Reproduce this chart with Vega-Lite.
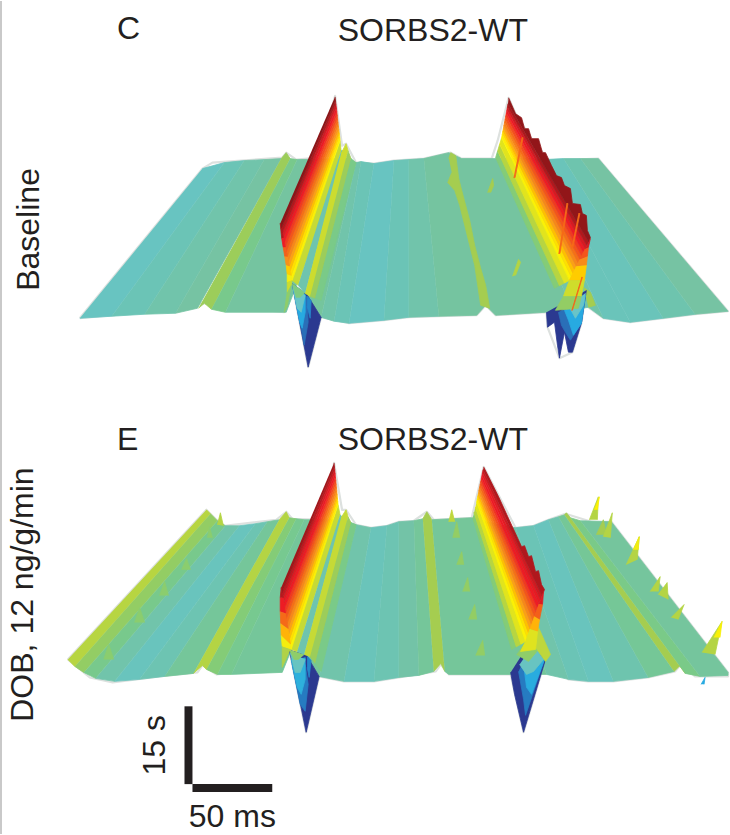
{"$schema":"https://vega.github.io/schema/vega-lite/v6.json","width":730,"height":835,"autosize":{"type":"fit","contains":"padding"},"padding":0,"background":"#ffffff","view":{"stroke":null},
"datasets":{
"surface":[
{"s":"c01","v":-0.08,"x":[203,225,112,80],"y":[168,162,316,318]},
{"s":"c02","v":-0.05,"x":[225,245,145,112],"y":[162,160,314,316]},
{"s":"c03","v":-0.02,"x":[245,265,176,145],"y":[160,159,313,314]},
{"s":"c04","v":0,"x":[265,282,198,176],"y":[159,158,308,313]},
{"s":"c05","v":0.18,"x":[282,287,291,212,205,199],"y":[158,152,158,309,303,308]},
{"s":"c06","v":0.07,"x":[291,298,226,212],"y":[158,159,312,309]},
{"s":"c07","v":0.01,"x":[298,345,287,226],"y":[159,158,312,312]},
{"s":"c08","v":0.02,"x":[345,357,322,307],"y":[158,162,317,293]},
{"s":"c09","v":-0.02,"x":[357,362,335,322],"y":[162,161,321,317]},
{"s":"c10","v":-0.05,"x":[362,375,350,335],"y":[161,163,323,321]},
{"s":"c11","v":-0.08,"x":[375,395,385,350],"y":[163,160,320,323]},
{"s":"c12","v":-0.05,"x":[395,410,410,385],"y":[160,159,317,320]},
{"s":"c13","v":-0.02,"x":[410,425,440,410],"y":[159,158,316,317]},
{"s":"c14","v":0.01,"x":[425,450,463,509,574,547,497,487,478,440],"y":[158,152,158,158,310,312,315,305,315,316]},
{"s":"c15","v":-0.02,"x":[509,530,605,590,574],"y":[158,158,318,307,310]},
{"s":"c16","v":-0.06,"x":[530,545,632,605],"y":[158,159,322,318]},
{"s":"c17","v":-0.06,"x":[545,565,665,632],"y":[159,158,318,322]},
{"s":"c18","v":-0.03,"x":[565,582,697,665],"y":[158,158,314,318]},
{"s":"c19","v":0,"x":[582,600,730,697],"y":[158,158,311,314]},
{"s":"c20","v":0.2,"x":[450,452,457,460,463,471,476,482,487,491,482,479,476,471,466,461,456,449,453],"y":[158,152,155,178,190,220,245,268,285,308,305,285,265,245,225,205,190,182,172]},
{"s":"c21","v":0.2,"x":[489,494,495,492],"y":[192,178,185,192]},
{"s":"c22","v":0.25,"x":[514,520,522,517],"y":[276,259,262,275]},
{"s":"c23","v":0.2,"x":[585,592,597,590],"y":[287,292,305,307]},
{"s":"c30","v":-0.85,"x":[293,309,322,307],"y":[283,367,317,293]},
{"s":"c31","v":-0.6,"x":[295,303,305,309,308],"y":[293,333,345,322,296]},
{"s":"c32","v":-0.35,"x":[294,300.5,303,306,306],"y":[288,322,328,312,294]},
{"s":"c33","v":-0.1,"x":[293.5,298,302,306],"y":[285,308,312,295]},
{"s":"c34","v":0.1,"x":[293,297,301,306],"y":[283,297,297,292]},
{"s":"c35","v":-0.5,"x":[308,312,311,308],"y":[296,300,318,306]},
{"s":"c40","v":-0.85,"x":[548,549,556,559,561,566,570,574,583,588],"y":[312,327,322,345,358,332,352,352,323,290]},
{"s":"c41","v":-0.6,"x":[560,563,567,572,583,587],"y":[312,325,332,340,323,295]},
{"s":"c42","v":-0.35,"x":[566,570,575,583,587],"y":[310,320,335,323,295]},
{"s":"c43","v":-0.1,"x":[570,577,585,587],"y":[305,318,305,293]},
{"s":"c50","v":0.3,"x":[341,342,299,293],"y":[140,150,285,280]},
{"s":"c51","v":-0.03,"x":[342,344,306,299],"y":[150,150,293,285]},
{"s":"c52","v":0.32,"x":[342,347,349,311,306],"y":[153,143,150,296,293]},
{"s":"c53","v":0.18,"x":[349,352,316,311],"y":[150,158,298,296]},
{"s":"c54","v":0.08,"x":[352,357,322,316],"y":[158,162,300,298]},
{"s":"ca12","v":0.49,"x":[340.6,341,293,292],"y":[136.3,140,280,275.3]},
{"s":"ca11","v":0.53,"x":[340.2,340.6,292,291],"y":[132.7,136.3,275.3,270.5]},
{"s":"ca10","v":0.58,"x":[339.8,340.2,291,290],"y":[129,132.7,270.5,265.8]},
{"s":"ca09","v":0.63,"x":[339.3,339.8,290,289],"y":[125.3,129,265.8,261]},
{"s":"ca08","v":0.68,"x":[338.9,339.3,289,288],"y":[121.7,125.3,261,256.3]},
{"s":"ca07","v":0.73,"x":[338.5,338.9,288,287],"y":[118,121.7,256.3,251.5]},
{"s":"ca06","v":0.78,"x":[338.1,338.5,287,286],"y":[114.3,118,251.5,246.8]},
{"s":"ca05","v":0.82,"x":[337.7,338.1,286,285],"y":[110.7,114.3,246.8,242]},
{"s":"ca04","v":0.85,"x":[337.3,337.7,285,284],"y":[107,110.7,242,237.3]},
{"s":"ca03","v":0.88,"x":[336.8,337.3,284,283],"y":[103.3,107,237.3,232.5]},
{"s":"ca02","v":0.93,"x":[336.4,336.8,283,282],"y":[99.7,103.3,232.5,227.8]},
{"s":"ca01","v":0.98,"x":[336,336.4,282,281],"y":[96,99.7,227.8,223]},
{"s":"c62","v":0.93,"x":[281,282.5,284,282],"y":[223,238,237.3,227.8]},
{"s":"c63","v":0.85,"x":[282.5,284,286,284],"y":[238,247,246.8,237.3]},
{"s":"c64","v":0.76,"x":[284,285.5,288,286],"y":[247,256,256.3,246.8]},
{"s":"c65","v":0.66,"x":[285.5,287,290,288],"y":[256,265,265.8,256.3]},
{"s":"c66","v":0.56,"x":[287,288,292,290],"y":[265,274,275.3,265.8]},
{"s":"c67","v":0.46,"x":[288,288,293,292],"y":[274,282,280,275.3]},
{"s":"c68","v":0.32,"x":[288,288,292,293],"y":[282,292,285,280]},
{"s":"c69","v":0.15,"x":[288,285,288,292],"y":[292,312,306,285]},
{"s":"c70","v":0.12,"x":[499,497,556,561],"y":[150.3,157,288,285.3]},
{"s":"c71","v":0.26,"x":[501,499,561,566],"y":[143.7,150.3,285.3,282.7]},
{"s":"c72","v":0.39,"x":[503,501,566,571],"y":[137,143.7,282.7,280]},
{"s":"cb12","v":0.49,"x":[503.6,503,571,572.8],"y":[133.9,137,280,276.5]},
{"s":"cb11","v":0.53,"x":[504.2,503.6,572.8,574.5],"y":[130.8,133.9,276.5,273]},
{"s":"cb10","v":0.58,"x":[504.8,504.2,574.5,576.3],"y":[127.8,130.8,273,269.5]},
{"s":"cb09","v":0.63,"x":[505.3,504.8,576.3,578],"y":[124.7,127.8,269.5,266]},
{"s":"cb08","v":0.68,"x":[505.9,505.3,578,579.8],"y":[121.6,124.7,266,262.5]},
{"s":"cb07","v":0.73,"x":[506.5,505.9,579.8,581.5],"y":[118.5,121.6,262.5,259]},
{"s":"cb06","v":0.78,"x":[507.1,506.5,581.5,583.3],"y":[115.4,118.5,259,255.5]},
{"s":"cb05","v":0.82,"x":[507.7,507.1,583.3,585],"y":[112.3,115.4,255.5,252]},
{"s":"cb04","v":0.85,"x":[508.3,507.7,585,586.8],"y":[109.3,112.3,252,248.5]},
{"s":"cb03","v":0.88,"x":[508.8,508.3,586.8,588.5],"y":[106.2,109.3,248.5,245]},
{"s":"cb02","v":0.93,"x":[509.4,508.8,588.5,590.3],"y":[103.1,106.2,245,241.5]},
{"s":"c79","v":0.97,"x":[510,517,523,526,530,533,540,544,547,553,558,563,566,572,574,582,584,588,589,592,590.3,509.4],"y":[97,113,117,128,128,138,138,152,152,165,175,177,185,188,203,204,213,215,230,237,241.5,103.1]},
{"s":"c80","v":0.88,"x":[592,590,586.8],"y":[238,247,248.5]},
{"s":"c81","v":0.78,"x":[590,589,581.5,586.8],"y":[247,256,259,248.5]},
{"s":"c82","v":0.67,"x":[589,588,578,581.5],"y":[256,265,266,259]},
{"s":"c83","v":0.56,"x":[588,586,571,578],"y":[265,280,280,266]},
{"s":"c84","v":0.33,"x":[586,583,565,571],"y":[280,296,296,280]},
{"s":"c85","v":0.16,"x":[583,580,557,565],"y":[296,308,310,296]},
{"s":"c86","v":0.74,"x":[523,524.5,516.5,515],"y":[137,137,177,177]},
{"s":"c87","v":0.74,"x":[568,569.5,561.5,560],"y":[203,203,253,253]},
{"s":"c88","v":0.74,"x":[580,581.5,574.5,573],"y":[213,213,247,247]},
{"s":"c89","v":0.75,"x":[583,584,574,573],"y":[277,277,310,310]},
{"s":"e01","v":0.26,"x":[207,211,75,68],"y":[510,514,667,660]},
{"s":"e02","v":0.16,"x":[211,218,84,75],"y":[514,521,673,667]},
{"s":"e03","v":0.07,"x":[218,226,96,84],"y":[521,526,679,673]},
{"s":"e04","v":-0.02,"x":[226,240,115,96],"y":[526,526,682,679]},
{"s":"e05","v":-0.07,"x":[240,256,140,115],"y":[526,524,680,682]},
{"s":"e06","v":-0.04,"x":[256,268,165,140],"y":[524,522,677,680]},
{"s":"e07","v":0.03,"x":[268,280,194,165],"y":[522,520,674,677]},
{"s":"e08","v":0.25,"x":[280,287,290,207,203,194],"y":[520,512,518,670,666,674]},
{"s":"e09","v":0.12,"x":[290,297,218,207],"y":[518,519,675,670]},
{"s":"e10","v":0.06,"x":[297,305,232,218],"y":[519,520,675,675]},
{"s":"e11","v":0.03,"x":[305,345,283,232],"y":[520,520,673,675]},
{"s":"e12","v":0.03,"x":[345,357,320,307],"y":[520,525,677,655]},
{"s":"e13","v":-0.02,"x":[357,372,345,320],"y":[525,528,682,677]},
{"s":"e14","v":-0.06,"x":[372,388,375,345],"y":[528,526,682,682]},
{"s":"e15","v":-0.04,"x":[388,400,400,375],"y":[526,522,678,682]},
{"s":"e16","v":-0.01,"x":[400,415,420,400],"y":[522,521,676,678]},
{"s":"e17","v":0.03,"x":[415,424,435,420],"y":[521,519,672,676]},
{"s":"e18","v":0.2,"x":[424,428,433,446,442,435],"y":[519,512,520,672,664,672]},
{"s":"e19","v":0.03,"x":[433,473,500,548,450,446],"y":[520,518,525,675,675,672]},
{"s":"e20","v":-0.02,"x":[500,517,570,548],"y":[525,528,680,675]},
{"s":"e21","v":-0.05,"x":[517,535,590,570],"y":[528,526,682,680]},
{"s":"e22","v":-0.07,"x":[535,550,615,590],"y":[526,520,682,682]},
{"s":"e23","v":-0.03,"x":[550,560,650,615],"y":[520,517,678,682]},
{"s":"e24","v":0.04,"x":[560,566,676,650],"y":[517,515,672,678]},
{"s":"e25","v":0.2,"x":[566,568,572,687,683,676],"y":[515,513,518,674,665,672]},
{"s":"e26","v":0.08,"x":[572,582,702,687],"y":[518,521,677,674]},
{"s":"e27","v":0.02,"x":[582,613,730,730,702],"y":[521,522,673,676,677]},
{"s":"e30","v":0.14,"x":[208,210,213],"y":[538,527,538]},
{"s":"e31","v":0.14,"x":[182,187,191],"y":[570,559,570]},
{"s":"e32","v":0.14,"x":[160,165,169],"y":[596,582,596]},
{"s":"e33","v":0.14,"x":[135,140,145],"y":[623,608,623]},
{"s":"e34","v":0.14,"x":[104,109,114],"y":[660,645,660]},
{"s":"e35","v":0.25,"x":[218,221,224],"y":[525,513,526]},
{"s":"e36","v":0.28,"x":[450,453,456],"y":[522,510,522]},
{"s":"e37","v":0.16,"x":[454,458,461],"y":[538,522,538]},
{"s":"e38","v":0.16,"x":[458,463,465],"y":[565,552,565]},
{"s":"e39","v":0.16,"x":[464,469,471],"y":[592,578,592]},
{"s":"e40","v":0.16,"x":[470,476,478],"y":[620,605,620]},
{"s":"e41","v":0.16,"x":[477,484,486],"y":[656,641,656]},
{"s":"e42","v":0.25,"x":[591,600,599],"y":[520,497,520]},
{"s":"e43","v":0.5,"x":[596,601,599],"y":[510,497,510]},
{"s":"e44","v":0.2,"x":[598,605,608],"y":[535,520,535]},
{"s":"e45","v":0.25,"x":[605,614,612],"y":[537,513,538]},
{"s":"e46","v":0.25,"x":[628,641,639],"y":[565,537,560]},
{"s":"e47","v":0.45,"x":[635,641,640],"y":[550,537,550]},
{"s":"e48","v":0.25,"x":[652,662,660],"y":[592,577,592]},
{"s":"e49","v":0.25,"x":[660,669,670],"y":[595,583,600]},
{"s":"e50","v":0.25,"x":[673,686,680],"y":[618,605,620]},
{"s":"e51","v":0.25,"x":[704,724,717],"y":[653,622,655]},
{"s":"e52","v":0.48,"x":[716,724,722],"y":[638,622,638]},
{"s":"e53","v":-0.35,"x":[703,707,706],"y":[685,678,685]},
{"s":"e60","v":-0.85,"x":[290,307,320,307],"y":[650,733,677,655]},
{"s":"e61","v":-0.55,"x":[293,301,306,309,306],"y":[665,705,712,685,665]},
{"s":"e62","v":-0.3,"x":[292,298,302,306,306],"y":[660,688,695,680,658]},
{"s":"e63","v":-0.08,"x":[291,296,301,306],"y":[653,673,673,660]},
{"s":"e64","v":0.15,"x":[290,295,299,305],"y":[650,660,660,655]},
{"s":"e65","v":-0.5,"x":[308,312,310,308],"y":[657,661,678,668]},
{"s":"e70","v":-0.85,"x":[512,516,525,547,530],"y":[673,695,733,660,645]},
{"s":"e71","v":-0.55,"x":[520,525,527,546,530],"y":[672,700,716,660,650]},
{"s":"e72","v":-0.33,"x":[525,528,533,546,532],"y":[665,688,695,660,650]},
{"s":"e73","v":-0.08,"x":[521,528,535,545,535],"y":[665,675,672,660,645]},
{"s":"e74","v":0.15,"x":[518,530,540,535,525],"y":[655,662,650,640,645]},
{"s":"e75","v":0.28,"x":[540,552,547,535],"y":[628,655,662,645]},
{"s":"e80","v":0.3,"x":[339,341,298,292],"y":[505,515,652,650]},
{"s":"e81","v":-0.03,"x":[341,343,305,298],"y":[515,517,655,652]},
{"s":"e82","v":0.3,"x":[342,347,349,311,305],"y":[518,510,517,657,655]},
{"s":"e83","v":0.18,"x":[349,352,316,311],"y":[517,523,664,657]},
{"s":"e84","v":0.08,"x":[352,357,322,316],"y":[523,525,672,664]},
{"s":"ea12","v":0.49,"x":[338.7,339,292,291.2],"y":[501.5,505,650,644.8]},
{"s":"ea11","v":0.53,"x":[338.3,338.7,291.2,290.3],"y":[498,501.5,644.8,639.7]},
{"s":"ea10","v":0.58,"x":[338,338.3,290.3,289.5],"y":[494.5,498,639.7,634.5]},
{"s":"ea09","v":0.63,"x":[337.7,338,289.5,288.7],"y":[491,494.5,634.5,629.3]},
{"s":"ea08","v":0.68,"x":[337.3,337.7,288.7,287.8],"y":[487.5,491,629.3,624.2]},
{"s":"ea07","v":0.73,"x":[337,337.3,287.8,287],"y":[484,487.5,624.2,619]},
{"s":"ea06","v":0.78,"x":[336.7,337,287,286.2],"y":[480.5,484,619,613.8]},
{"s":"ea05","v":0.82,"x":[336.3,336.7,286.2,285.3],"y":[477,480.5,613.8,608.7]},
{"s":"ea04","v":0.85,"x":[336,336.3,285.3,284.5],"y":[473.5,477,608.7,603.5]},
{"s":"ea03","v":0.87,"x":[335.7,336,284.5,283.7],"y":[470,473.5,603.5,598.3]},
{"s":"ea02","v":0.91,"x":[335.3,335.7,283.7,282.8],"y":[466.5,470,598.3,593.2]},
{"s":"ea01","v":0.95,"x":[335,335.3,282.8,282],"y":[463,466.5,593.2,588]},
{"s":"e92","v":0.92,"x":[282,281,283.7,282.8],"y":[588,598,598.3,593.2]},
{"s":"e93","v":0.85,"x":[281,281,286.2,283.7],"y":[598,612,613.8,598.3]},
{"s":"e94","v":0.74,"x":[281,281.5,288.7,286.2],"y":[612,624,629.3,613.8]},
{"s":"e95","v":0.6,"x":[281.5,282,291.2,288.7],"y":[624,636,644.8,629.3]},
{"s":"e96","v":0.46,"x":[282,283,292,291.2],"y":[636,647,650,644.8]},
{"s":"e97","v":0.24,"x":[283,283,290,292],"y":[647,668,652,650]},
{"s":"f01","v":0.12,"x":[474,513,517.7,475.3],"y":[518,650,647.3,512.7]},
{"s":"f02","v":0.26,"x":[475.3,517.7,522.3,476.7],"y":[512.7,647.3,644.7,507.3]},
{"s":"f03","v":0.39,"x":[476.7,522.3,527,478],"y":[507.3,644.7,642,502]},
{"s":"fa12","v":0.49,"x":[478.6,478,527,528.5],"y":[499.1,502,642,637.8]},
{"s":"fa11","v":0.53,"x":[479.2,478.6,528.5,530],"y":[496.2,499.1,637.8,633.7]},
{"s":"fa10","v":0.58,"x":[479.8,479.2,530,531.5],"y":[493.3,496.2,633.7,629.5]},
{"s":"fa09","v":0.63,"x":[480.3,479.8,531.5,533],"y":[490.3,493.3,629.5,625.3]},
{"s":"fa08","v":0.68,"x":[480.9,480.3,533,534.5],"y":[487.4,490.3,625.3,621.2]},
{"s":"fa07","v":0.73,"x":[481.5,480.9,534.5,536],"y":[484.5,487.4,621.2,617]},
{"s":"fa06","v":0.78,"x":[482.1,481.5,536,537.5],"y":[481.6,484.5,617,612.8]},
{"s":"fa05","v":0.82,"x":[482.7,482.1,537.5,539],"y":[478.7,481.6,612.8,608.7]},
{"s":"fa04","v":0.85,"x":[483.3,482.7,539,540.5],"y":[475.8,478.7,608.7,604.5]},
{"s":"fa03","v":0.86,"x":[483.8,483.3,540.5,542],"y":[472.8,475.8,604.5,600.3]},
{"s":"fa02","v":0.89,"x":[484.4,483.8,542,543.5],"y":[469.9,472.8,600.3,596.2]},
{"s":"fa01","v":0.93,"x":[485,500,523,526,530,533,537,540,543,546,543.5,484.4],"y":[467,497,547,546,557,556,572,571,585,590,596.2,469.9]},
{"s":"f11","v":0.87,"x":[545,544,540.5],"y":[592,605,604.5]},
{"s":"f12","v":0.76,"x":[544,541,536,540.5],"y":[605,620,617,604.5]},
{"s":"f13","v":0.6,"x":[541,539,531.5,536],"y":[620,632,629.5,617]},
{"s":"f14","v":0.38,"x":[539,537,522,527,531.5],"y":[632,650,652,642,629.5]}
],
"outline":[
{"s":"oc","x":[80,137,203,285,293,309,322,350,385,410,440,478,487,497,548,549,561,574,583,588,590,605,632,665,697,730,600,551,533,517,510,499,493,463,452,425,395,375,357,347,343,336,320,297,287,283,213,203,80],"y":[318,313,303,312,283,367,317,323,320,317,316,315,305,315,312,327,358,352,323,287,307,318,322,318,314,311,158,160,138,113,97,140,158,158,152,158,160,163,162,143,145,95,157,159,152,157,162,168,318]},
{"s":"oe","x":[68,90,113,160,198,203,217,283,290,307,320,345,375,400,437,442,450,512,525,547,570,590,615,650,677,683,697,730,730,613,593,567,550,535,517,485,473,435,428,415,400,388,372,357,347,343,335,325,293,287,277,225,217,207,68],"y":[660,678,683,677,673,666,675,668,650,733,677,682,682,678,672,665,675,675,733,660,680,682,682,678,672,665,677,677,673,522,522,514,520,526,528,467,518,520,512,521,522,526,528,525,510,510,463,520,519,512,520,526,520,510,660]}
],
"bars":[{"x":185,"x2":193,"y":707,"y2":785},{"x":193,"x2":273,"y":785,"y2":793}],
"labels":[{"t":"C","x":129,"y":38},{"t":"SORBS2-WT","x":434,"y":40},{"t":"E","x":128,"y":450},{"t":"SORBS2-WT","x":434,"y":450},{"t":"50 ms","x":233,"y":828}],
"vlabels":[{"t":"Baseline","x":39,"y":229},{"t":"DOB, 12 ng/g/min","x":33,"y":595},{"t":"15 s","x":165,"y":746}]
},
"layer":[
{"data":{"values":[{"x":1}]},"mark":{"type":"rule","color":"#c9c9c9","strokeWidth":2},"encoding":{"x":{"field":"x","type":"quantitative","scale":{"domain":[0,730],"nice":false,"zero":false},"axis":null},"y":{"datum":0,"scale":{"domain":[835,0],"nice":false,"zero":false},"axis":null},"y2":{"datum":835}}},
{"data":{"name":"outline"},"transform":[{"flatten":["x","y"]}],"mark":{"type":"line","color":"#dde1df","strokeWidth":2.2,"strokeJoin":"round"},"encoding":{"x":{"field":"x","type":"quantitative"},"y":{"field":"y","type":"quantitative"},"detail":{"field":"s"},"order":{"value":null}}},
{"data":{"name":"surface"},"transform":[{"flatten":["x","y"]}],"mark":{"type":"line","filled":true,"strokeWidth":0.8,"strokeJoin":"round"},"encoding":{"x":{"field":"x","type":"quantitative"},"y":{"field":"y","type":"quantitative"},"detail":{"field":"s"},"order":{"value":null},
"fill":{"field":"v","type":"quantitative","legend":null,"scale":{"domain":[-1,-0.85,-0.6,-0.35,-0.1,0,0.2,0.35,0.5,0.65,0.85,1],"range":["#1b2a78","#2b3990","#2a6fb8","#27aae1","#68c4c8","#76c3a3","#a5cd50","#d7df23","#fff200","#f7941d","#ed1c24","#7d1416"]}},
"stroke":{"field":"v","type":"quantitative","legend":null,"scale":{"domain":[-1,-0.85,-0.6,-0.35,-0.1,0,0.2,0.35,0.5,0.65,0.85,1],"range":["#1b2a78","#2b3990","#2a6fb8","#27aae1","#68c4c8","#76c3a3","#a5cd50","#d7df23","#fff200","#f7941d","#ed1c24","#7d1416"]}}}},
{"data":{"name":"bars"},"mark":{"type":"rect","color":"#231f20"},"encoding":{"x":{"field":"x","type":"quantitative"},"x2":{"field":"x2"},"y":{"field":"y","type":"quantitative"},"y2":{"field":"y2"}}},
{"data":{"name":"labels"},"mark":{"type":"text","font":"Liberation Sans","fontSize":32,"color":"#231f20","align":"center","baseline":"alphabetic"},"encoding":{"x":{"field":"x","type":"quantitative"},"y":{"field":"y","type":"quantitative"},"text":{"field":"t"}}},
{"data":{"name":"vlabels"},"mark":{"type":"text","font":"Liberation Sans","fontSize":32,"color":"#231f20","align":"center","baseline":"alphabetic","angle":270},"encoding":{"x":{"field":"x","type":"quantitative"},"y":{"field":"y","type":"quantitative"},"text":{"field":"t"}}}
]}
